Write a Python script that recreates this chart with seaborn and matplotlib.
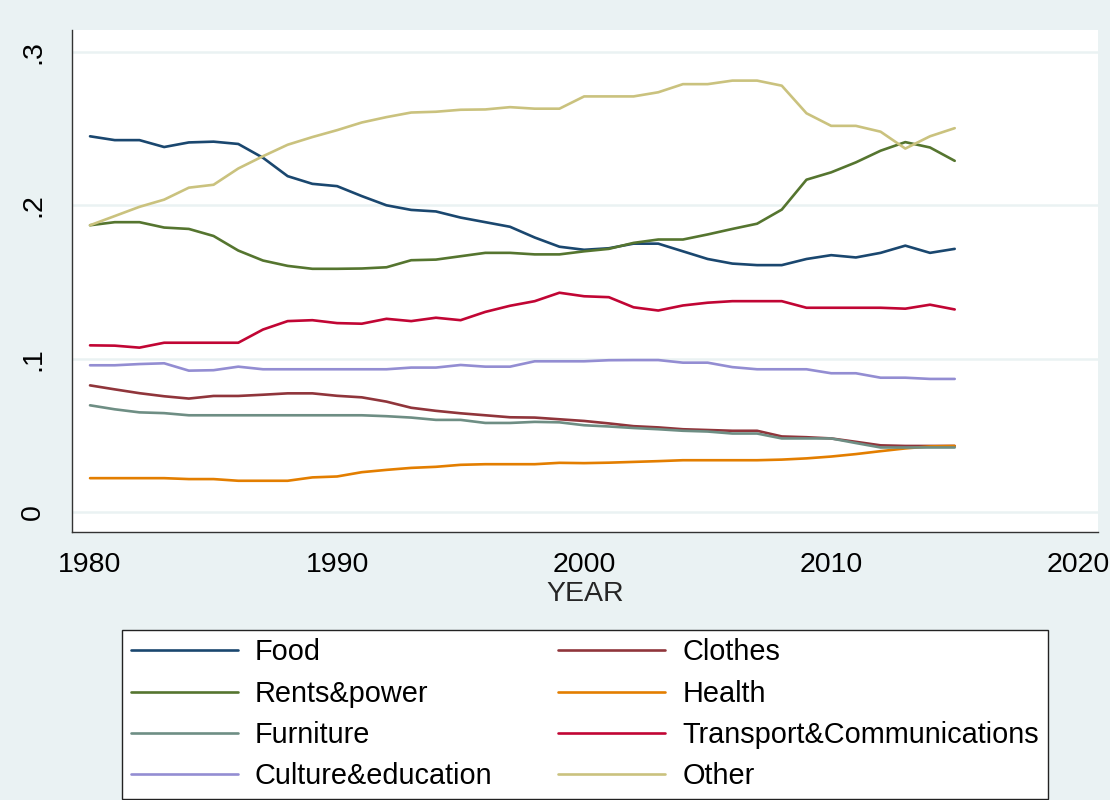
import matplotlib
matplotlib.use("Agg")
import matplotlib.pyplot as plt
import seaborn as sns
import pandas as pd

years = [1980, 1981, 1982, 1983, 1984, 1985, 1986, 1987, 1988, 1989,
         1990, 1991, 1992, 1993, 1994, 1995, 1996, 1997, 1998, 1999,
         2000, 2001, 2002, 2003, 2004, 2005, 2006, 2007, 2008, 2009,
         2010, 2011, 2012, 2013, 2014, 2015]

food = [.245, .2425, .2425, .238, .241, .2415, .240, .231, .219, .214,
        .2125, .206, .200, .197, .196, .192, .189, .186, .179, .173,
        .171, .172, .175, .175, .170, .165, .162, .161, .161, .165,
        .1675, .166, .169, .1737, .169, .1716]
clothes = [.0826, .080, .0775, .0755, .074, .0757, .0757, .0765, .0774, .0774,
           .0758, .0748, .072, .068, .066, .0644, .0631, .0618, .0616, .0605,
           .0594, .0578, .056, .0552, .054, .0535, .053, .053, .0493, .0488,
           .048, .0458, .0435, .0431, .0431, .0431]
rents = [.187, .189, .189, .1855, .1846, .180, .1705, .164, .1605, .1586,
         .1586, .1588, .1596, .1642, .1646, .1668, .169, .169, .168, .168,
         .170, .1716, .1755, .1777, .1777, .181, .1846, .188, .1972, .2167,
         .2215, .228, .2356, .2412, .2377, .229]
health = [.0221, .0221, .0221, .0221, .0215, .0215, .0204, .0204, .0204, .0226,
          .0232, .026, .0275, .0288, .0295, .0308, .0312, .0312, .0312, .0321,
          .0319, .0322, .0327, .0332, .0338, .0338, .0338, .0338, .0342, .035,
          .0362, .0378, .0397, .0415, .0428, .0431]
furniture = [.0696, .067, .065, .0645, .0631, .0631, .0631, .0631, .0631, .0631,
             .0631, .0631, .0625, .0616, .0601, .0601, .0581, .0581, .0588, .0585,
             .0566, .0558, .0548, .054, .053, .0525, .0512, .0512, .048, .048,
             .048, .045, .0421, .0421, .0421, .0421]
transport = [.1087, .1085, .1072, .1104, .1104, .1104, .1104, .119, .1245, .1251,
             .1232, .1228, .126, .1245, .1267, .1251, .1305, .1345, .1375, .143,
             .1407, .1401, .1335, .1314, .1347, .1365, .1375, .1375, .1375, .1332,
             .1332, .1332, .1332, .1326, .1352, .1321]
culture = [.0957, .0957, .0965, .097, .0922, .0925, .0948, .0931, .0931, .0931,
           .0931, .0931, .0931, .0942, .0942, .0959, .0948, .0948, .0983, .0983,
           .0983, .099, .0991, .0991, .0974, .0974, .0945, .0931, .0931, .0931,
           .0905, .0905, .0876, .0876, .0868, .0868]
other = [.187, .193, .199, .2037, .2115, .2134, .224, .232, .2395, .2445,
         .249, .254, .2575, .2605, .261, .2623, .2625, .264, .263, .263,
         .271, .271, .271, .2737, .279, .279, .2813, .2813, .278, .260,
         .2518, .2518, .248, .237, .245, .2503]

series_names = ["Food", "Clothes", "Rents&power", "Health", "Furniture",
                "Transport&Communications", "Culture&education", "Other"]
series_values = [food, clothes, rents, health, furniture, transport, culture, other]
colors = ["#1A476F", "#90353B", "#55752F", "#E37E00", "#6E8E84",
          "#C10534", "#938DD2", "#CAC27E"]

x_ticks = [1980, 1990, 2000, 2010, 2020]
y_ticks = [0, 0.1, 0.2, 0.3]
y_ticklabels = ["0", ".1", ".2", ".3"]

rows = []
for name, vals in zip(series_names, series_values):
    for yr, v in zip(years, vals):
        rows.append({"YEAR": yr, "value": v, "series": name})
df = pd.DataFrame(rows)

sns.set_theme(style="white")
plt.rcParams["font.family"] = ["Liberation Sans", "DejaVu Sans"]

bg = "#EAF2F3"
fig = plt.figure(figsize=(11.1, 8.0), dpi=100, facecolor=bg)
ax = fig.add_axes([72 / 1110, 1 - 532 / 800, (1098 - 72) / 1110, (532 - 30) / 800])
ax.set_facecolor("white")

sns.lineplot(data=df, x="YEAR", y="value", hue="series", hue_order=series_names,
             palette=colors, linewidth=1.9, ax=ax, legend=False, sort=False)

ax.set_xlim(1979.27, 2020.8)
ax.set_ylim(-0.013, 0.3143)
ax.set_xticks(x_ticks)
ax.set_xticklabels([str(t) for t in x_ticks])
ax.set_yticks(y_ticks)
ax.set_yticklabels(y_ticklabels, rotation=90, va="center")
ax.tick_params(axis="both", which="major", direction="out", length=8.5, width=1.0,
               color="#333333", labelsize=20.5, labelcolor="black", pad=6)
ax.tick_params(axis="y", pad=10)
ax.grid(axis="y", color=bg, linewidth=1.8)
ax.grid(axis="x", visible=False)
for s in ["top", "right"]:
    ax.spines[s].set_visible(False)
for s in ["left", "bottom"]:
    ax.spines[s].set_color("#333333")
    ax.spines[s].set_linewidth(1.0)
ax.set_xlabel("YEAR", fontsize=20.5, labelpad=2)
ax.set_ylabel("")

handles = [plt.Line2D([], [], color=c, linewidth=1.9) for c in colors]
order = [0, 2, 4, 6, 1, 3, 5, 7]
leg = fig.legend([handles[i] for i in order], [series_names[i] for i in order],
                 ncol=2, loc="lower left", mode="expand",
                 bbox_to_anchor=(122 / 1110, 1 / 800, 926 / 1110, 174 / 800),
                 fontsize=20.8, handlelength=3.7, handletextpad=0.6,
                 labelspacing=0.46, borderaxespad=0, borderpad=0.30,
                 frameon=True, fancybox=False, edgecolor="#222222",
                 facecolor="white", framealpha=1.0)
leg.get_frame().set_linewidth(1.0)
for t in leg.get_texts():
    t.set_color("black")

fig.savefig("out.png", dpi=100, facecolor=bg)
